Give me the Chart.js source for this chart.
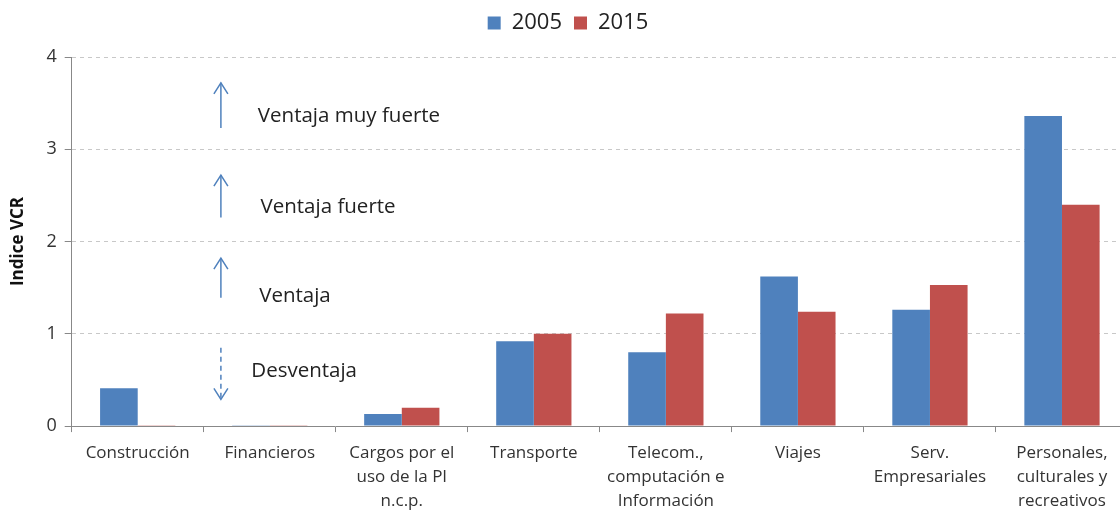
<!DOCTYPE html>
<html>
<head>
<meta charset="utf-8">
<script src="https://cdn.jsdelivr.net/npm/chart.js@4"></script>
<style>
  html, body { margin: 0; padding: 0; background: #fff; overflow: hidden; }
  #wrap { width: 1130px; height: 522px; }
</style>
</head>
<body>
<div id="wrap"><canvas id="vcrChart"></canvas></div>
<script>
// Categories and values
const categories = [
  "Construcción",
  "Financieros",
  ["Cargos por el", "uso de la PI", "n.c.p."],
  "Transporte",
  ["Telecom.,", "computación e", "Información"],
  "Viajes",
  ["Serv.", "Empresariales"],
  ["Personales,", "culturales y", "recreativos"]
];
const values2005 = [0.41, 0.01, 0.13, 0.92, 0.80, 1.62, 1.26, 3.36];
const values2015 = [0.01, 0.01, 0.20, 1.00, 1.22, 1.24, 1.53, 2.40];
const yTicks = [0, 1, 2, 3, 4];

// Notes on the plot, in axis units (x = category index, y = VCR)
const notes = [
  { x: 0.63, y0: 3.23, y1: 3.72, dashed: false, label: "Ventaja muy fuerte", tx: 0.91, ty: 3.36 },
  { x: 0.63, y0: 2.26, y1: 2.72, dashed: false, label: "Ventaja fuerte", tx: 0.93, ty: 2.37 },
  { x: 0.63, y0: 1.39, y1: 1.82, dashed: false, label: "Ventaja", tx: 0.92, ty: 1.41 },
  { x: 0.63, y0: 0.85, y1: 0.29, dashed: true, label: "Desventaja", tx: 0.86, ty: 0.60 }
];

const notesPlugin = {
  id: 'notes',
  afterDatasetsDraw(chart) {
    const ctx = chart.ctx;
    const xs = chart.scales.x, ys = chart.scales.y;
    ctx.save();
    notes.forEach(n => {
      const x = xs.getPixelForValue(n.x);
      const ya = ys.getPixelForValue(n.y0);
      const yb = ys.getPixelForValue(n.y1);
      const dir = yb < ya ? -1 : 1;
      ctx.strokeStyle = '#4f81bd';
      ctx.lineWidth = 1.5;
      ctx.setLineDash(n.dashed ? [5, 4] : []);
      ctx.beginPath();
      ctx.moveTo(x, ya);
      ctx.lineTo(x, yb);
      ctx.stroke();
      ctx.setLineDash([]);
      ctx.beginPath();
      ctx.moveTo(x - 7, yb - dir * 11);
      ctx.lineTo(x, yb);
      ctx.lineTo(x + 7, yb - dir * 11);
      ctx.stroke();
      ctx.fillStyle = '#222';
      ctx.font = '20.5px "Open Sans", sans-serif';
      ctx.textBaseline = 'middle';
      ctx.fillText(n.label, xs.getPixelForValue(n.tx), ys.getPixelForValue(n.ty));
    });
    ctx.restore();
  }
};

// extra space under the legend
const legendGap = {
  id: 'legendGap',
  beforeInit(chart) {
    const fit = chart.legend.fit;
    chart.legend.fit = function () {
      fit.bind(chart.legend)();
      this.height += 13;
    };
  }
};

const ctx = document.getElementById('vcrChart').getContext('2d');
const myChart = new Chart(ctx, {
  type: 'bar',
  data: {
    labels: categories,
    datasets: [{
      label: '2005',
      data: values2005,
      backgroundColor: '#4f81bd'
    }, {
      label: '2015',
      data: values2015,
      backgroundColor: '#c0504d'
    }]
  },
  plugins: [notesPlugin, legendGap],
  options: {
    responsive: true,
    maintainAspectRatio: false,
    animation: false,
    layout: { padding: { left: 8, right: 2, top: 0, bottom: 0 } },
    datasets: {
      bar: { categoryPercentage: 0.57, barPercentage: 1.0 }
    },
    plugins: {
      legend: {
        position: 'top',
        labels: {
          boxWidth: 13,
          boxHeight: 13,
          padding: 12,
          color: '#222',
          font: { size: 22, family: '"Open Sans", sans-serif' }
        }
      },
      tooltip: { enabled: false }
    },
    scales: {
      x: {
        grid: { drawOnChartArea: false, offset: true, tickLength: 6, color: '#888' },
        border: { color: '#888' },
        ticks: {
          color: '#333',
          maxRotation: 0,
          autoSkip: false,
          padding: 9,
          font: { size: 17, family: '"Open Sans", sans-serif', lineHeight: 1.41 }
        }
      },
      y: {
        min: 0,
        max: 4,
        afterBuildTicks: axis => { axis.ticks = yTicks.map(v => ({ value: v })); },
        grid: { color: '#c8c8c8', tickLength: 7, tickColor: '#888' },
        border: { color: '#888', dash: [4, 4] },
        ticks: {
          color: '#333',
          padding: 8,
          font: { size: 18, family: '"Open Sans", sans-serif' }
        },
        title: {
          display: true,
          text: 'Indice VCR',
          color: '#111',
          font: { size: 17, weight: 'bold', family: '"Open Sans", sans-serif' },
          padding: { top: 0, bottom: 10 }
        }
      }
    }
  }
});
</script>
</body>
</html>
